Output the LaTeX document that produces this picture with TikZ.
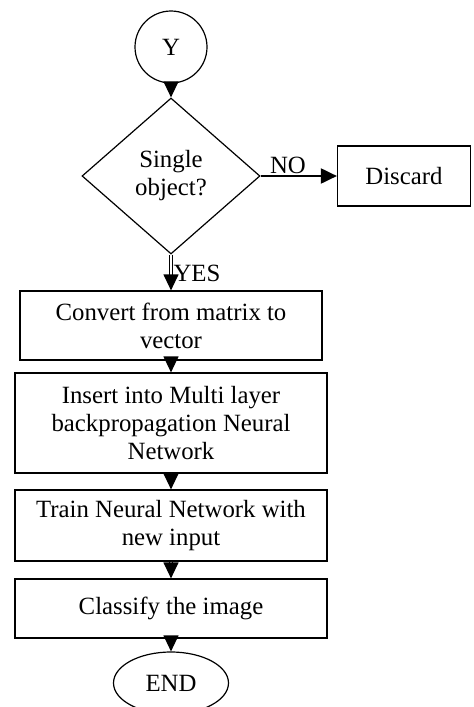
\documentclass[tikz,border=0pt]{standalone}
\usepackage{fontspec}
\setmainfont{Liberation Serif}
\usetikzlibrary{shapes.geometric,arrows.meta}
\begin{document}
\begin{tikzpicture}[x=0.5pt,y=-0.5pt]
\tikzset{ >={Triangle[length=8pt,width=7.5pt]}, font=\fontsize{12.4}{14}\selectfont,
  box/.style={draw, line width=0.6pt, align=center, inner sep=0pt},
  flow/.style={->, double, double distance=1pt, line width=0.6pt},
  }

%\draw [lightgray, dashed](0,0) grid (473,707);
\useasboundingbox (0,0) rectangle (473,707);

\node [box, circle, minimum size=36pt] (Y) at (171,47) {Y};
\node [box, diamond, minimum width=89pt, minimum height=78pt] (Q) at (171,176) {Single\\object?};
\node [box, minimum width=66.5pt, minimum height=30pt] (D) at (404,176) {Discard};

\node [box, minimum width=151pt, minimum height=34.5pt] (C) at (171,325.5) {Convert from matrix to\\vector};
\node [box, minimum width=156pt, minimum height=50pt] (I) at (171,423) {Insert into Multi layer\\backpropagation Neural\\Network};
\node [box, minimum width=156pt, minimum height=35.5pt] (T) at (171,525.5) {Train Neural Network with\\new input};
\node [box, minimum width=156pt, minimum height=29.5pt] (K) at (171,608.5) {Classify the image};
\node [box, ellipse, minimum width=57.5pt, minimum height=31pt] (E) at (171,683) {END};

\draw [flow] (Y) -- (Q);
\draw [->, line width=1pt] (Q) -- (D);
\draw [flow] (Q) -- (C);
\draw [flow] (C) -- (I);
\draw [flow] (I) -- (T);
\draw [flow] (T) -- (K);
\draw [flow] (K) -- (E);

\node (no) at (288,165) {NO};
\node (yes) at (197,273) {YES};

\end{tikzpicture}
\end{document}
